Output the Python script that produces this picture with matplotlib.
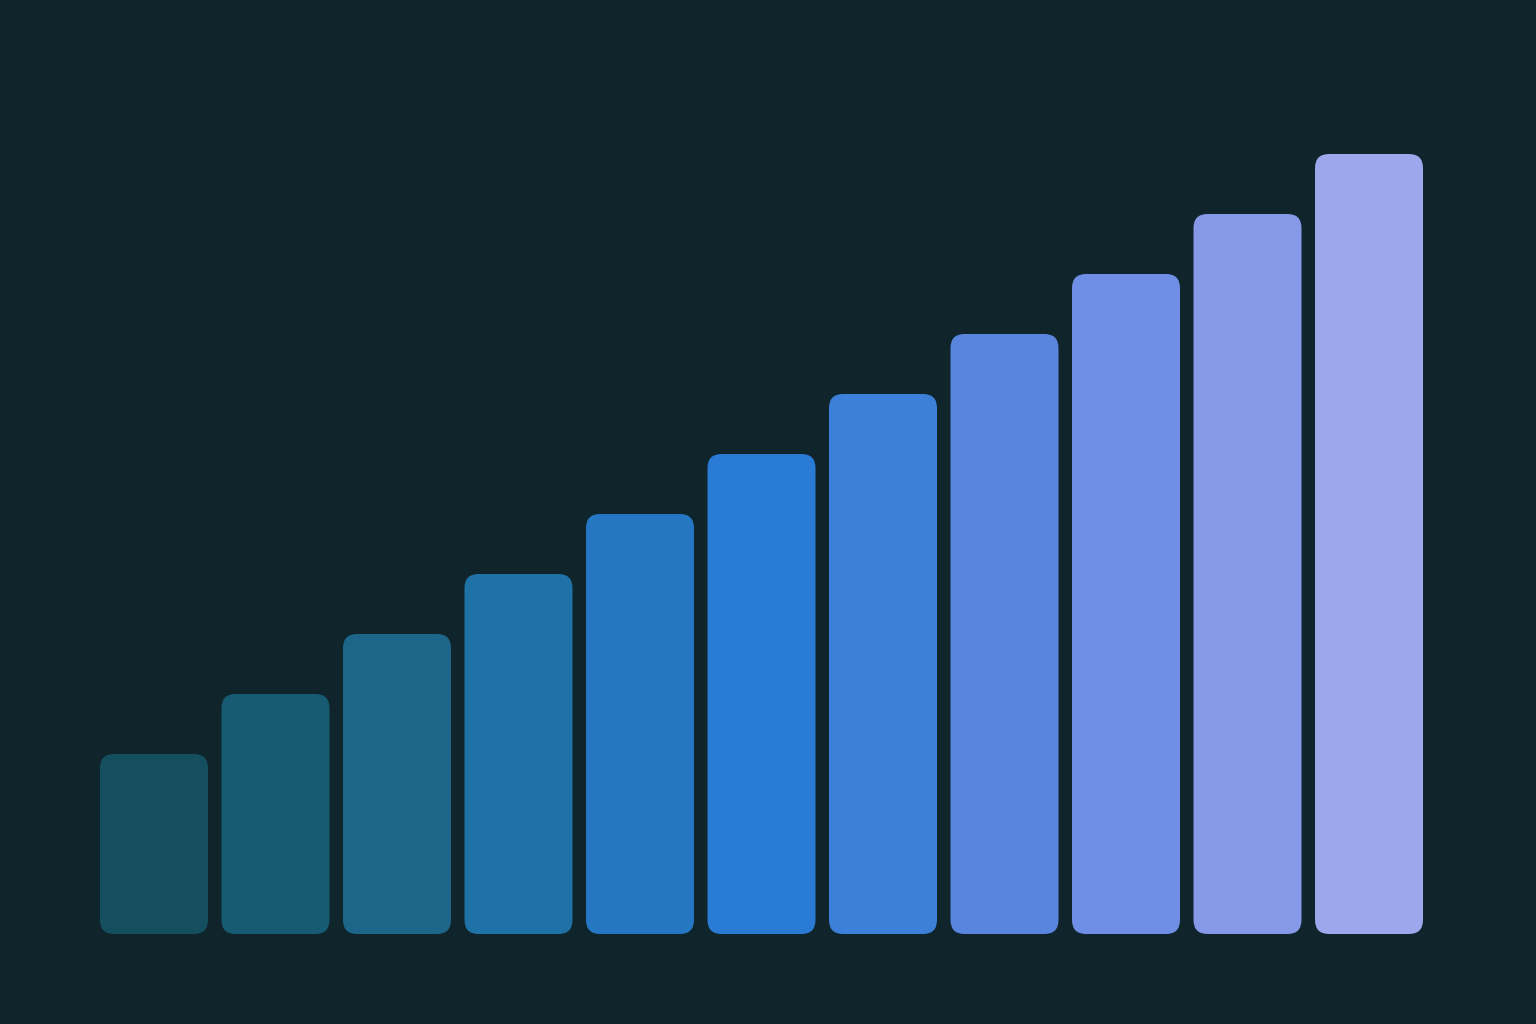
import matplotlib
matplotlib.use("Agg")
import matplotlib.pyplot as plt
from matplotlib.patches import FancyBboxPatch

categories = list(range(11))
values = [3, 4, 5, 6, 7, 8, 9, 10, 11, 12, 13]
colors = ["#154f5f", "#175b73", "#1d6589", "#1f72a6", "#2477c0", "#2a7bd6",
          "#3d80da", "#5985de", "#6f8fe6", "#8599e8", "#9ba8ec"]

BG = "#0f242b"
W, H = 1536, 1024
fig = plt.figure(figsize=(W / 100, H / 100), dpi=100, facecolor=BG)
ax = fig.add_axes([0, 0, 1, 1])
ax.set_facecolor(BG)

px_x = 121.5   # pixels per x unit
px_y = 60.0    # pixels per y unit
x0 = 154.0     # pixel of first bar centre
y0 = 934.0     # pixel (from top) of baseline
ax.set_xlim(-x0 / px_x, (W - x0) / px_x)
ax.set_ylim(-(H - y0) / px_y, y0 / px_y)
ax.axis("off")

bw = 108 / px_x
r = 14 / px_x
for c, v, col in zip(categories, values, colors):
    p = FancyBboxPatch((c - bw / 2, 0), bw, v,
                       boxstyle=f"round,pad=0,rounding_size={r}",
                       mutation_aspect=px_x / px_y,
                       facecolor=col, edgecolor="none")
    ax.add_patch(p)

fig.savefig("out.png", dpi=100, facecolor=BG)
